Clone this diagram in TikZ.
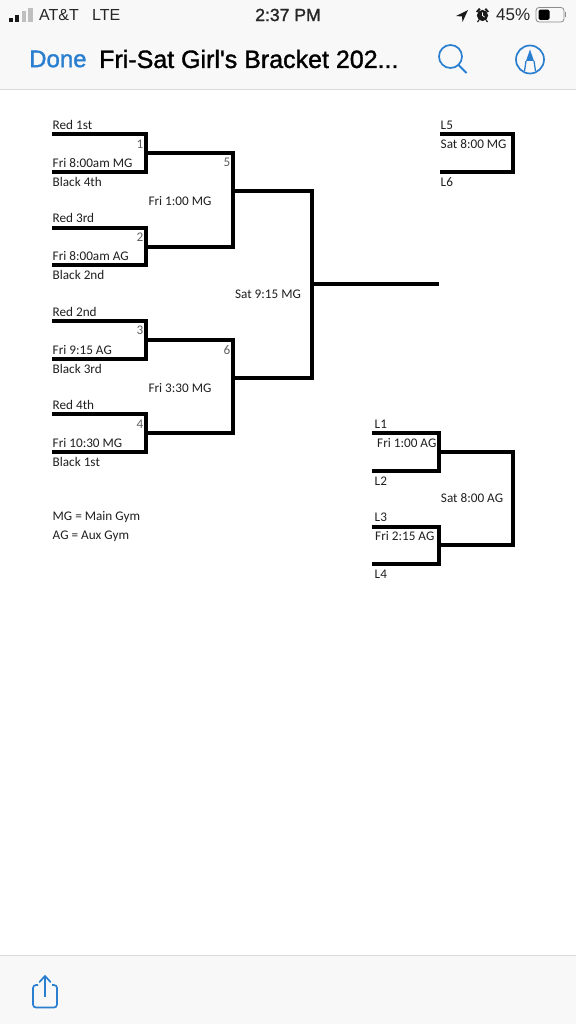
\documentclass[tikz,border=0pt]{standalone}
\usepackage{fontspec}
\setmainfont{Carlito}
\newfontfamily\uifont{Liberation Sans}
\newfontfamily\uimed[FakeBold=1.4]{Liberation Sans}
\definecolor{barbg}{HTML}{F8F8F8}
\definecolor{barline}{HTML}{D9D9D9}
\definecolor{iosblue}{HTML}{2A7FD0}
\definecolor{sheettext}{HTML}{202020}
\definecolor{numgrey}{HTML}{606060}
\tikzset{
  bracket/.style={draw=black,line width=3.5pt,line join=miter,yshift=-0.6pt},
  lab/.style={font=\fontsize{13.2}{15}\selectfont,text=sheettext,inner sep=0pt,anchor=west},
  labc/.style={font=\fontsize{13.2}{15}\selectfont,text=sheettext,inner sep=0pt,anchor=center},
  num/.style={font=\fontsize{13.2}{15}\selectfont,text=numgrey,inner sep=0pt,anchor=center},
  status/.style={font=\uifont\fontsize{16}{18}\selectfont,text=black!85,inner sep=0pt},
  icon/.style={draw=iosblue,line width=1.7pt},
}
\begin{document}
\begin{tikzpicture}[x=1pt,y=-1pt]
\useasboundingbox (0,0) rectangle (576,1024);
\fill[white] (0,0) rectangle (576,1024);
\fill[barbg] (0,0) rectangle (576,89);
\draw[barline,line width=1pt] (0,89.5) -- (576,89.5);
\fill[barbg] (0,955) rectangle (576,1024);
\draw[barline,line width=1pt] (0,955) -- (576,955);
% status bar
\fill[black!90] (9,18) rectangle (13,22);
\fill[black!90] (15,15) rectangle (19,22);
\fill[black!25] (22,11.5) rectangle (26,22);
\fill[black!25] (28,8.5) rectangle (32.5,22);
\node[status,anchor=west] (carrier) at (39,15) {AT\&T};
\node[status,anchor=west] (lte) at (92,15) {LTE};
\node[font=\uimed\fontsize{17.6}{20}\selectfont,inner sep=0pt,text=black!85] (clock) at (288,15) {2:37 PM};
% location arrow
\fill[black!90] (468,10) -- (456,16) -- (462,16.5) -- (462.5,22) -- cycle;
% alarm clock
\fill[black!90] (482.5,15.5) circle (5.6);
\draw[white,line width=0.8pt] (482.5,12.5) -- (482.5,15.5) -- (484.5,17);
\fill[black!90] (476,11.5) -- (479,8) -- (480.5,9.5) -- (477.5,12.5) -- cycle;
\fill[black!90] (489,11.5) -- (486,8) -- (484.5,9.5) -- (487.5,12.5) -- cycle;
\draw[black!90,line width=1.2pt] (479,20) -- (477.5,22) (486,20) -- (487.5,22);
\node[status,anchor=west,font=\uifont\fontsize{17}{18}\selectfont] (pct) at (496,15) {45\%};
\draw[black!45,line width=0.8pt,rounded corners=3pt] (536,7.5) rectangle (564,22);
\fill[black,rounded corners=1.5pt] (538.5,9.7) rectangle (549.5,19.8);
\fill[black!45] (565,12.5) rectangle (566,17);
% nav bar
\node[font=\uimed\fontsize{24}{28}\selectfont,text=iosblue,inner sep=0pt,anchor=west] (done) at (29,59) {Done};
\node[font=\uimed\fontsize{25}{28}\selectfont,text=black,inner sep=0pt,anchor=west] (title) at (99,59) {Fri-Sat Girl's Bracket 202...};
\draw[icon] (450.5,56.5) circle (11.5);
\draw[icon,line width=2pt] (458.5,65) -- (466.5,73);
\draw[icon] (530,59.5) circle (14);
\fill[iosblue] (530,49.5) -- (526,61) -- (534,61) -- cycle;
\draw[icon,line width=1.3pt] (526,61) -- (524.5,71) (534,61) -- (535.5,71);
% share icon
\draw[icon,rounded corners=3pt] (38,985) -- (33,985) -- (33,1007.5) -- (57,1007.5) -- (57,985) -- (52,985);
\draw[icon] (45,997) -- (45,977);
\draw[icon,line cap=round] (39.5,982) -- (45,976) -- (50.5,982);
% coordinates
\coordinate (m1a) at (52,134); \coordinate (m1b) at (146,134); \coordinate (m1c) at (146,172); \coordinate (m1d) at (52,172); \coordinate (m1o) at (146,153);
\coordinate (m2a) at (52,228); \coordinate (m2b) at (146,228); \coordinate (m2c) at (146,265); \coordinate (m2d) at (52,265); \coordinate (m2o) at (146,247);
\coordinate (m3a) at (52,321); \coordinate (m3b) at (146,321); \coordinate (m3c) at (146,359); \coordinate (m3d) at (52,359); \coordinate (m3o) at (146,340);
\coordinate (m4a) at (52,414); \coordinate (m4b) at (146,414); \coordinate (m4c) at (146,452); \coordinate (m4d) at (52,452); \coordinate (m4o) at (146,433);
\coordinate (m5a) at (233,153); \coordinate (m5b) at (233,247); \coordinate (m5o) at (233,191);
\coordinate (m6a) at (233,340); \coordinate (m6b) at (233,433); \coordinate (m6o) at (233,378);
\coordinate (f1) at (312,191); \coordinate (f2) at (312,378); \coordinate (fo) at (312,284); \coordinate (fe) at (439,284);
\coordinate (t1) at (440,134); \coordinate (t2) at (513,134); \coordinate (t3) at (513,172); \coordinate (t4) at (440,172);
\coordinate (l1a) at (372,433); \coordinate (l1b) at (439,433); \coordinate (l1c) at (439,471); \coordinate (l1d) at (372,471); \coordinate (l1o) at (439,452);
\coordinate (l2a) at (372,527); \coordinate (l2b) at (439,527); \coordinate (l2c) at (439,564); \coordinate (l2d) at (372,564); \coordinate (l2o) at (439,545);
\coordinate (l3a) at (513,452); \coordinate (l3b) at (513,545);
% brackets
\draw[bracket] (m1a) -- (m1b) -- (m1c) -- (m1d);
\draw[bracket] (m2a) -- (m2b) -- (m2c) -- (m2d);
\draw[bracket] (m3a) -- (m3b) -- (m3c) -- (m3d);
\draw[bracket] (m4a) -- (m4b) -- (m4c) -- (m4d);
\draw[bracket] (m1o) -- (m5a) -- (m5b) -- (m2o);
\draw[bracket] (m3o) -- (m6a) -- (m6b) -- (m4o);
\draw[bracket] (m5o) -- (f1) -- (f2) -- (m6o);
\draw[bracket] (fo) -- (fe);
\draw[bracket] (t1) -- (t2) -- (t3) -- (t4);
\draw[bracket] (l1a) -- (l1b) -- (l1c) -- (l1d);
\draw[bracket] (l2a) -- (l2b) -- (l2c) -- (l2d);
\draw[bracket] (l1o) -- (l3a) -- (l3b) -- (l2o);
% labels
\node[lab] (a1) at (52.5,125) {Red 1st};
\node[lab] (a2) at (52.5,163) {Fri 8:00am MG};
\node[lab] (a3) at (52.5,182) {Black 4th};
\node[lab] (a4) at (52.5,218) {Red 3rd};
\node[lab] (a5) at (52.5,256) {Fri 8:00am AG};
\node[lab] (a6) at (52.5,275) {Black 2nd};
\node[lab] (a7) at (52.5,312) {Red 2nd};
\node[lab] (a8) at (52.5,350) {Fri 9:15 AG};
\node[lab] (a9) at (52.5,368.5) {Black 3rd};
\node[lab] (a10) at (52.5,405) {Red 4th};
\node[lab] (a11) at (52.5,443) {Fri 10:30 MG};
\node[lab] (a12) at (52.5,462) {Black 1st};
\node[num] (n1) at (140,144) {1};
\node[num] (n2) at (140,237) {2};
\node[num] (n3) at (140,330) {3};
\node[num] (n4) at (140,424) {4};
\node[num] (n5) at (227,162.5) {5};
\node[num] (n6) at (227,350) {6};
\node[labc] (b1) at (180,201) {Fri 1:00 MG};
\node[labc] (b2) at (180,388) {Fri 3:30 MG};
\node[labc] (b3) at (268,294) {Sat 9:15 MG};
\node[lab] (c1) at (440.5,125) {L5};
\node[lab] (c2) at (440.5,144) {Sat 8:00 MG};
\node[lab] (c3) at (440.5,182) {L6};
\node[lab] (d1) at (374.5,424) {L1};
\node[lab] (d2) at (377,443) {Fri 1:00 AG};
\node[lab] (d3) at (374.5,481) {L2};
\node[lab] (d4) at (374.5,517) {L3};
\node[lab] (d5) at (375,536) {Fri 2:15 AG};
\node[lab] (d6) at (374.5,574) {L4};
\node[labc] (d7) at (472,498) {Sat 8:00 AG};
\node[lab] (e1) at (52.5,517) {MG = Main Gym};
\node[lab] (e2) at (52.5,536) {AG = Aux Gym};
\end{tikzpicture}
\end{document}
